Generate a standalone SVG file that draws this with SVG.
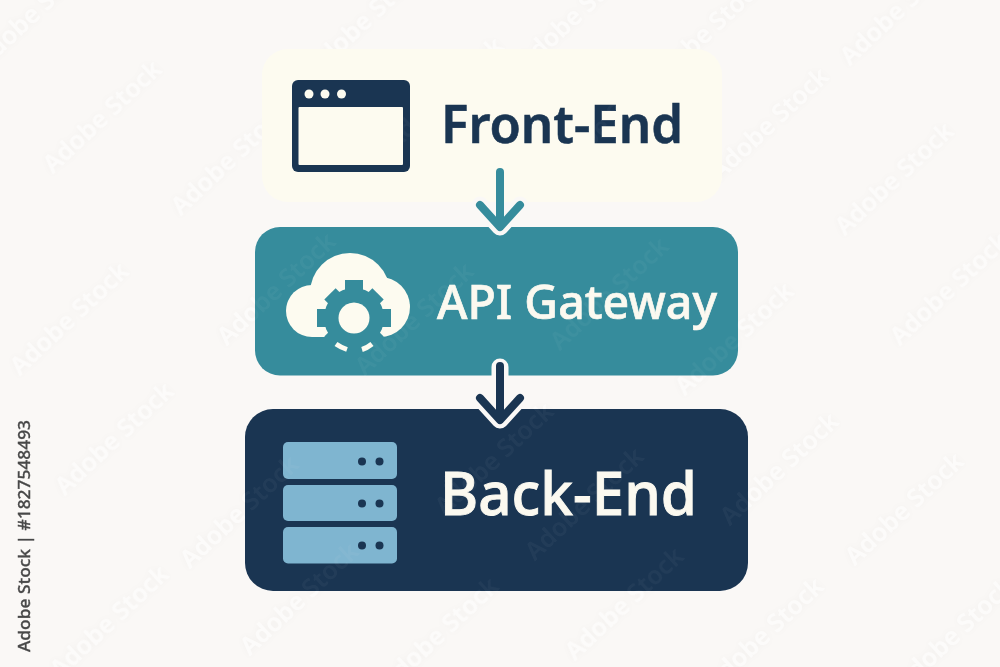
<svg xmlns="http://www.w3.org/2000/svg" xmlns:xlink="http://www.w3.org/1999/xlink" width="1000" height="667" viewBox="0 0 1000 667">
  <style>
    text { font-family: "Noto Sans", "Open Sans", "Liberation Sans", sans-serif; }
    .wm { font-size: 25px; font-weight: 600; fill: #ffffff; text-anchor: middle; }
    .navy { fill: #1a3552; }
    .teal { fill: #368c9c; }
    .cream { fill: #fdfbf0; }
    .blue { fill: #7fb5d0; }
    .halo { fill: none; stroke: #faf8f6; stroke-width: 17; stroke-linecap: round; stroke-linejoin: round; }
    .shaft { fill: none; stroke-width: 8; stroke-linecap: round; stroke-linejoin: round; }
  </style>
  <defs>
    <filter id="soft" x="-20%" y="-20%" width="140%" height="140%">
      <feDropShadow dx="0" dy="0" stdDeviation="3.500" flood-color="#000000" flood-opacity="0.07"/>
    </filter>
    <g id="marks">
      <text class="wm" transform="translate(40 18) rotate(-43)">Adobe Stock</text>
      <text class="wm" transform="translate(108 123) rotate(-43)">Adobe Stock</text>
      <text class="wm" transform="translate(236 165) rotate(-43)">Adobe Stock</text>
      <text class="wm" transform="translate(372 25) rotate(-43)">Adobe Stock</text>
      <text class="wm" transform="translate(582 20) rotate(-43)">Adobe Stock</text>
      <text class="wm" transform="translate(712 38) rotate(-43)">Adobe Stock</text>
      <text class="wm" transform="translate(905 15) rotate(-43)">Adobe Stock</text>
      <text class="wm" transform="translate(775 130) rotate(-43)">Adobe Stock</text>
      <text class="wm" transform="translate(900 185) rotate(-43)">Adobe Stock</text>
      <text class="wm" transform="translate(955 295) rotate(-43)">Adobe Stock</text>
      <text class="wm" transform="translate(740 345) rotate(-43)">Adobe Stock</text>
      <text class="wm" transform="translate(282 295) rotate(-43)">Adobe Stock</text>
      <text class="wm" transform="translate(75 325) rotate(-43)">Adobe Stock</text>
      <text class="wm" transform="translate(120 445) rotate(-43)">Adobe Stock</text>
      <text class="wm" transform="translate(245 518) rotate(-43)">Adobe Stock</text>
      <text class="wm" transform="translate(115 628) rotate(-43)">Adobe Stock</text>
      <text class="wm" transform="translate(305 605) rotate(-43)">Adobe Stock</text>
      <text class="wm" transform="translate(445 640) rotate(-43)">Adobe Stock</text>
      <text class="wm" transform="translate(630 610) rotate(-43)">Adobe Stock</text>
      <text class="wm" transform="translate(785 475) rotate(-43)">Adobe Stock</text>
      <text class="wm" transform="translate(910 515) rotate(-43)">Adobe Stock</text>
      <text class="wm" transform="translate(770 640) rotate(-43)">Adobe Stock</text>
      <text class="wm" transform="translate(960 640) rotate(-43)">Adobe Stock</text>
      <text class="wm" transform="translate(450 100) rotate(-43)">Adobe Stock</text>
      <text class="wm" transform="translate(610 130) rotate(-43)">Adobe Stock</text>
      <text class="wm" transform="translate(420 325) rotate(-43)">Adobe Stock</text>
      <text class="wm" transform="translate(615 300) rotate(-43)">Adobe Stock</text>
      <text class="wm" transform="translate(500 465) rotate(-43)">Adobe Stock</text>
      <text class="wm" transform="translate(590 510) rotate(-43)">Adobe Stock</text>
    </g>
  </defs>

  <rect width="1000" height="667" fill="#faf8f6"/>
  <use href="#marks" filter="url(#soft)" opacity="0.5"/>

  <g id="front-end">
    <rect x="262" y="49" width="460" height="153" rx="26" class="cream"/>
    <rect x="292" y="80" width="118" height="92" rx="6" class="navy"/>
    <rect x="298.500" y="107" width="104.500" height="58" rx="1" class="cream"/>
    <circle cx="309" cy="94" r="4.500" class="cream"/>
    <circle cx="325" cy="94" r="4.500" class="cream"/>
    <circle cx="341.500" cy="94" r="4.500" class="cream"/>
    <text x="441" y="143" font-size="52" font-weight="600" class="navy" stroke="#1a3552" stroke-width="0.6" textLength="242" lengthAdjust="spacingAndGlyphs">Front-End</text>
  </g>

  <g id="api-gateway">
    <rect x="255" y="227" width="483" height="148.500" rx="25" class="teal"/>
    <g class="cream">
      <circle cx="350" cy="293" r="40"/>
      <circle cx="312" cy="311" r="26"/>
      <circle cx="380" cy="307" r="30"/>
      <rect x="312" y="300" width="68" height="37"/>
    </g>
    <g class="teal">
      <circle cx="354" cy="318" r="30"/>
      <rect x="345" y="280" width="18" height="76"/>
      <rect x="346" y="284" width="16" height="68" transform="rotate(45 354 318)"/>
      <rect x="345" y="281" width="18" height="74" transform="rotate(90 354 318)"/>
      <rect x="346" y="284" width="16" height="68" transform="rotate(-45 354 318)"/>
      <rect x="328" y="337" width="52" height="22"/>
    </g>
    <circle cx="354" cy="318" r="15.500" class="cream"/>
    <path d="M336 344 Q341 347.500 347 349.500 M362 349.500 Q367 348 372 344" fill="none" stroke="#fdfbf0" stroke-width="5"/>
    <text x="437" y="319" font-size="48" font-weight="500" fill="#fbf9f0" stroke="#fbf9f0" stroke-width="0.7" textLength="280" lengthAdjust="spacingAndGlyphs">API Gateway</text>
  </g>

  <g id="back-end">
    <rect x="245" y="409" width="503" height="182" rx="28" class="navy"/>
    <rect x="283" y="442" width="114" height="37" rx="5" class="blue"/>
    <rect x="283" y="485" width="114" height="36" rx="5" class="blue"/>
    <rect x="283" y="527" width="114" height="36.500" rx="5" class="blue"/>
    <g class="navy">
      <circle cx="362" cy="461.500" r="4"/><circle cx="379.500" cy="461.500" r="4"/>
      <circle cx="362" cy="503.500" r="4"/><circle cx="379.500" cy="503.500" r="4"/>
      <circle cx="362" cy="545.500" r="4"/><circle cx="379.500" cy="545.500" r="4"/>
    </g>
    <text x="440" y="515" font-size="59" font-weight="500" fill="#fbf9f0" stroke="#fbf9f0" stroke-width="0.9" textLength="257" lengthAdjust="spacingAndGlyphs">Back-End</text>
  </g>

  <g id="connectors">
    <path d="M480 205 L500 227 L520 205" class="halo"/>
    <path d="M500 172 V226 M480 205 L500 227 L520 205" class="shaft" stroke="#368c9c"/>
    <path d="M500 367 V418 M480 398 L500 420 L520 398" class="halo"/>
    <path d="M500 366 V418 M480 398 L500 420 L520 398" class="shaft" stroke="#1a3552"/>
  </g>

  <use href="#marks" opacity="0.04"/>

  <text id="credit" transform="translate(30 652) rotate(-90)" font-size="17" font-weight="500" fill="#484848" stroke="#484848" stroke-width="0.3" textLength="232" lengthAdjust="spacingAndGlyphs">Adobe Stock | #1827548493</text>
</svg>
